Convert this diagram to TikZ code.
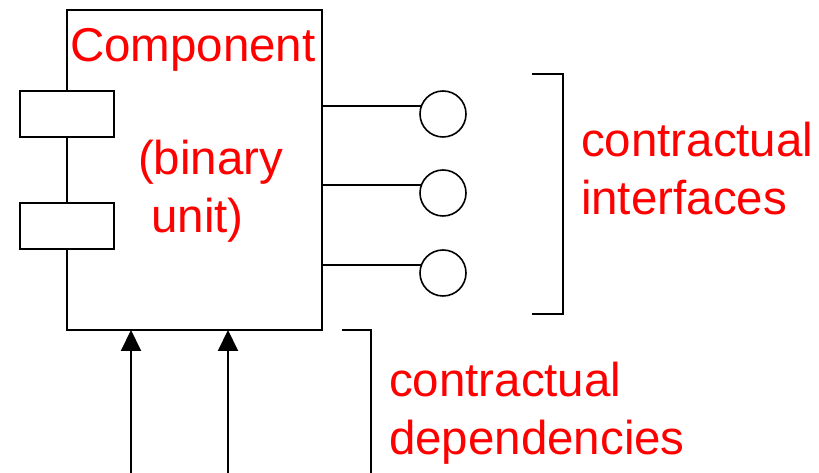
\documentclass[tikz,border=0pt]{standalone}
\usepackage{fontspec}
\setmainfont{Liberation Sans}
\usetikzlibrary{arrows.meta}

\definecolor{notecolor}{RGB}{255,0,0}
\newcommand{\port}[1]{%
  \filldraw[fill=white, draw=black, line width=2pt]
    (20,#1) rectangle (114,#1+46);
}
\tikzset{
  note/.style={text=notecolor, font=\fontsize{47.5}{58}\selectfont,
    inner sep=0pt, anchor=base west, align=left},
  socket/.style={circle, draw, line width=1.6pt, minimum size=46pt, inner sep=0pt},
}

\begin{document}
\begin{tikzpicture}[x=1pt, y=1pt, line width=2pt]
  \useasboundingbox (0,0) rectangle (819,473);
  % Component body
  \node[draw, minimum width=255pt, minimum height=320pt, inner sep=0pt,
    outer sep=0pt, anchor=south west] (comp) at (67,143) {};
  % Ports on the left edge
  \port{224}
  \port{336}
  % Provided interfaces
  \foreach \i/\y in {1/359, 2/280, 3/200} {
    \node[socket] (if\i) at (443,\y) {};
    \draw (if\i.161) -- (if\i.161 -| comp.east);
  }
  \draw (532,399) -- (563,399) -- (563,159) -- (532,159);
  % Required dependencies
  \foreach \i/\x in {1/131, 2/228} {
    \coordinate (dep\i) at (\x,0);
    \draw[-{Triangle[length=21pt, width=20pt]}] (dep\i) -- (dep\i |- comp.south);
  }
  \draw (342,143) -- (371,143) -- (371,0);
  % Labels (base is the last line)
  \node[note] (title) at (69,411) {Component};
  \node[note] (kind) at (137,240) {(binary\\\hspace*{0.278em}unit)};
  \node[note] (ifaces) at (580,258) {contractual\\interfaces};
  \node[note] (deps) at (388,18) {contractual\\dependencies};
\end{tikzpicture}
\end{document}
